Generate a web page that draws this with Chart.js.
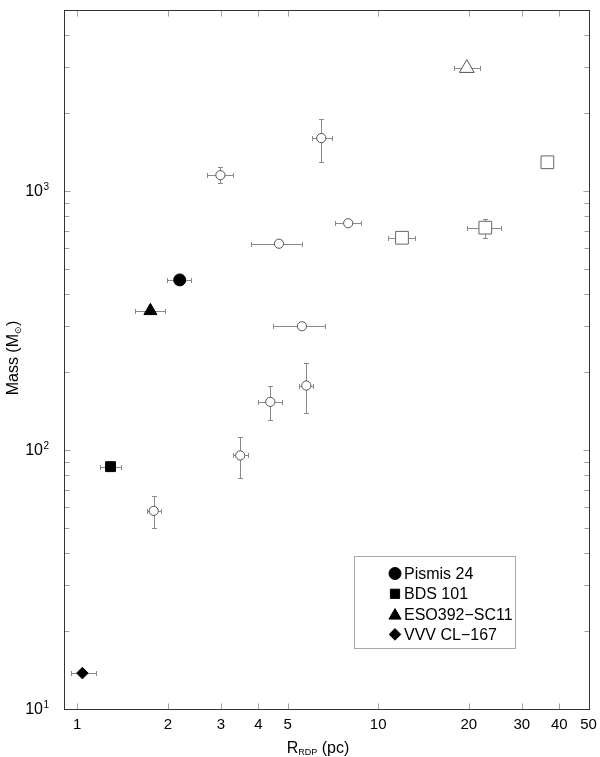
<!DOCTYPE html>
<html>
<head>
<meta charset="utf-8">
<script src="https://cdn.jsdelivr.net/npm/chart.js@4.4.0/dist/chart.umd.min.js"></script>
<style>
  html, body { margin: 0; padding: 0; background: #fff; }
  canvas { display: block; }
</style>
</head>
<body>
<canvas id="massChart" width="600" height="757"></canvas>
<script>
// clusters of this work (filled symbols, shown in the legend)
const clusterNames = ['Pismis 24', 'BDS 101', 'ESO392\u2212SC11', 'VVV CL\u2212167'];
const clusterR = [2.19, 1.29, 1.75, 1.04];
const clusterMass = [453, 86, 344, 13.7];
const clusterRLo = [1.99, 1.19, 1.55, 0.95];
const clusterRHi = [2.39, 1.40, 1.96, 1.15];

// literature clusters, open circles
const litCircR = [6.47, 2.99, 7.95, 4.68, 5.58, 1.795, 3.48, 4.38, 5.77];
const litCircMass = [1600, 1150, 750, 625, 300, 58, 95, 153, 177];
const litCircRLo = [6.01, 2.70, 7.17, 3.79, 4.47, 1.70, 3.30, 3.98, 5.44];
const litCircRHi = [7.00, 3.30, 8.78, 5.60, 6.67, 1.90, 3.68, 4.79, 6.09];
const litCircMLo = [1290, 1070, null, null, null, 50, 78, 130, 138];
const litCircMHi = [1900, 1240, null, null, null, 66, 112, 176, 217];

// literature clusters, open squares
const litSqR = [36.5, 12.0, 22.7];
const litSqMass = [1290, 659, 721];
const litSqRLo = [null, 10.8, 19.7];
const litSqRHi = [null, 13.3, 25.6];
const litSqMLo = [null, null, 660];
const litSqMHi = [null, null, 778];

// literature clusters, open triangle
const litTriR = [19.7];
const litTriMass = [2980];
const litTriRLo = [17.8];
const litTriRHi = [21.8];

// axes
const xTicks = [1, 2, 3, 4, 5, 10, 20, 30, 40, 50];
const yMajorTicks = [10, 100, 1000];
const yExponents = ['1', '2', '3'];
const xRange = [0.9, 50];
const yRange = [10, 5000];

function points(xv, yv, xlo, xhi, ylo, yhi) {
  return xv.map((x, i) => ({
    x: x, y: yv[i],
    xLo: xlo ? xlo[i] : null, xHi: xhi ? xhi[i] : null,
    yLo: ylo ? ylo[i] : null, yHi: yhi ? yhi[i] : null
  }));
}

const filledStyles = ['circle', 'rect', 'triangle', 'rectRot'];
const filledRadius = [6, 7, 7.5, 5.8];

const datasets = clusterNames.map((name, i) => ({
  label: name,
  data: points([clusterR[i]], [clusterMass[i]], [clusterRLo[i]], [clusterRHi[i]]),
  pointStyle: filledStyles[i],
  pointRadius: filledRadius[i],
  backgroundColor: '#000',
  borderColor: '#000',
  borderWidth: 1
}));

datasets.push({
  label: 'lit circles',
  data: points(litCircR, litCircMass, litCircRLo, litCircRHi, litCircMLo, litCircMHi),
  pointStyle: 'circle', pointRadius: 4.6,
  backgroundColor: '#fff', borderColor: '#555', borderWidth: 1
});
datasets.push({
  label: 'lit squares',
  data: points(litSqR, litSqMass, litSqRLo, litSqRHi, litSqMLo, litSqMHi),
  pointStyle: 'rect', pointRadius: 9,
  backgroundColor: '#fff', borderColor: '#666', borderWidth: 1
});
datasets.push({
  label: 'lit triangles',
  data: points(litTriR, litTriMass, litTriRLo, litTriRHi),
  pointStyle: 'triangle', pointRadius: 8.5,
  backgroundColor: '#fff', borderColor: '#555', borderWidth: 1
});

// error bars go under the symbols
const errorBars = {
  id: 'errorBars',
  beforeDatasetsDraw(chart) {
    const ctx = chart.ctx;
    const xs = chart.scales.x, ys = chart.scales.y;
    const cap = 2.5;
    ctx.save();
    ctx.strokeStyle = '#8a8a8a';
    ctx.lineWidth = 1;
    chart.data.datasets.forEach(ds => {
      ds.data.forEach(p => {
        const px = Math.round(xs.getPixelForValue(p.x)) + 0.5;
        const py = Math.round(ys.getPixelForValue(p.y)) + 0.5;
        ctx.beginPath();
        if (p.xLo != null) {
          const a = Math.round(xs.getPixelForValue(p.xLo)) + 0.5;
          const b = Math.round(xs.getPixelForValue(p.xHi)) + 0.5;
          ctx.moveTo(a, py); ctx.lineTo(b, py);
          ctx.moveTo(a, py - cap); ctx.lineTo(a, py + cap);
          ctx.moveTo(b, py - cap); ctx.lineTo(b, py + cap);
        }
        if (p.yLo != null) {
          const a = Math.round(ys.getPixelForValue(p.yLo)) + 0.5;
          const b = Math.round(ys.getPixelForValue(p.yHi)) + 0.5;
          ctx.moveTo(px, a); ctx.lineTo(px, b);
          ctx.moveTo(px - cap, a); ctx.lineTo(px + cap, a);
          ctx.moveTo(px - cap, b); ctx.lineTo(px + cap, b);
        }
        ctx.stroke();
      });
    });
    ctx.restore();
  }
};

// frame, inward ticks, labels, axis titles and the legend box
const frame = {
  id: 'frame',
  afterDraw(chart) {
    const ctx = chart.ctx;
    const xs = chart.scales.x, ys = chart.scales.y;
    const ca = chart.chartArea;
    const L = Math.round(ca.left) + 0.5, R = Math.round(ca.right) + 0.5;
    const T = Math.round(ca.top) + 0.5, B = Math.round(ca.bottom) + 0.5;
    ctx.save();

    // ticks
    ctx.strokeStyle = '#a0a0a0';
    ctx.lineWidth = 1;
    ctx.beginPath();
    xTicks.forEach(v => {
      const px = Math.round(xs.getPixelForValue(v)) + 0.5;
      ctx.moveTo(px, B); ctx.lineTo(px, B - 6);
      ctx.moveTo(px, T); ctx.lineTo(px, T + 6);
    });
    for (let d = 10; d < yRange[1]; d *= 10) {
      for (let m = 1; m <= 9; m++) {
        const v = d * m;
        if (v > yRange[1]) break;
        const py = Math.round(ys.getPixelForValue(v)) + 0.5;
        const len = m === 1 ? 6 : 5;
        ctx.moveTo(L, py); ctx.lineTo(L + len, py);
        ctx.moveTo(R, py); ctx.lineTo(R - len, py);
      }
    }
    ctx.stroke();

    // box
    ctx.strokeStyle = '#333';
    ctx.strokeRect(L, T, R - L, B - T);

    // tick labels
    ctx.fillStyle = '#000';
    ctx.font = '15px "Liberation Sans", Arial, sans-serif';
    ctx.textAlign = 'center';
    ctx.textBaseline = 'top';
    xTicks.forEach(v => {
      ctx.fillText(String(v), xs.getPixelForValue(v), 717);
    });
    yMajorTicks.forEach((v, i) => {
      const py = ys.getPixelForValue(v);
      ctx.font = '16px "Liberation Sans", Arial, sans-serif';
      ctx.textAlign = 'right';
      ctx.textBaseline = 'middle';
      ctx.fillText('10', 43, py + 1);
      ctx.font = '10px "Liberation Sans", Arial, sans-serif';
      ctx.textAlign = 'left';
      ctx.textBaseline = 'alphabetic';
      ctx.fillText(yExponents[i], 43.5, py - 1);
    });

    // x title: R_RDP (pc)
    ctx.textAlign = 'left';
    ctx.textBaseline = 'alphabetic';
    const big = '16px "Liberation Sans", Arial, sans-serif';
    const small = '9px "Liberation Sans", Arial, sans-serif';
    ctx.font = big;
    const wR = ctx.measureText('R').width;
    const wP = ctx.measureText(' (pc)').width;
    ctx.font = small;
    const wS = ctx.measureText('RDP').width;
    let x0 = 318 - (wR + wS + wP) / 2;
    const base = 752.5;
    ctx.font = big; ctx.fillText('R', x0, base);
    ctx.font = small; ctx.fillText('RDP', x0 + wR, base + 2);
    ctx.font = big; ctx.fillText(' (pc)', x0 + wR + wS, base);

    // y title: Mass (M_sun)
    ctx.save();
    ctx.translate(18, 358);
    ctx.rotate(-Math.PI / 2);
    ctx.font = big;
    const wA = ctx.measureText('Mass (M').width;
    const wC = ctx.measureText(')').width;
    ctx.font = small;
    const wSun = ctx.measureText('\u2299').width;
    x0 = -(wA + wSun + wC) / 2;
    ctx.font = big; ctx.fillText('Mass (M', x0, 0);
    ctx.font = small; ctx.fillText('\u2299', x0 + wA, 3);
    ctx.font = big; ctx.fillText(')', x0 + wA + wSun, 0);
    ctx.restore();

    // legend
    ctx.fillStyle = '#fff';
    ctx.fillRect(354.5, 556.5, 161, 92);
    ctx.strokeStyle = '#a8a8a8';
    ctx.strokeRect(354.5, 556.5, 161, 92);
    ctx.font = '16px "Liberation Sans", Arial, sans-serif';
    ctx.textBaseline = 'middle';
    ctx.textAlign = 'left';
    const legendRadius = [6, 6.5, 7, 5.8];
    clusterNames.forEach((name, i) => {
      const ly = 573.5 + i * 20.3;
      ctx.fillStyle = '#000';
      ctx.strokeStyle = '#000';
      Chart.helpers.drawPoint(ctx, {
        pointStyle: filledStyles[i], radius: legendRadius[i], borderWidth: 1, rotation: 0
      }, 395, ly + (filledStyles[i] === 'triangle' ? 1.5 : 0));
      ctx.fillStyle = '#000';
      ctx.fillText(name, 404, ly + 1);
    });
    ctx.restore();
  }
};

new Chart(document.getElementById('massChart'), {
  type: 'scatter',
  data: { datasets: datasets },
  options: {
    responsive: false,
    animation: false,
    devicePixelRatio: 1,
    layout: { padding: { left: 63.5, right: 11.5, top: 6, bottom: 48.5 } },
    plugins: { legend: { display: false }, tooltip: { enabled: false } },
    scales: {
      x: {
        type: 'logarithmic', min: xRange[0], max: xRange[1],
        grid: { display: false, drawTicks: false },
        border: { display: false },
        ticks: { display: false }
      },
      y: {
        type: 'logarithmic', min: yRange[0], max: yRange[1],
        grid: { display: false, drawTicks: false },
        border: { display: false },
        ticks: { display: false }
      }
    }
  },
  plugins: [errorBars, frame]
});
</script>
</body>
</html>
